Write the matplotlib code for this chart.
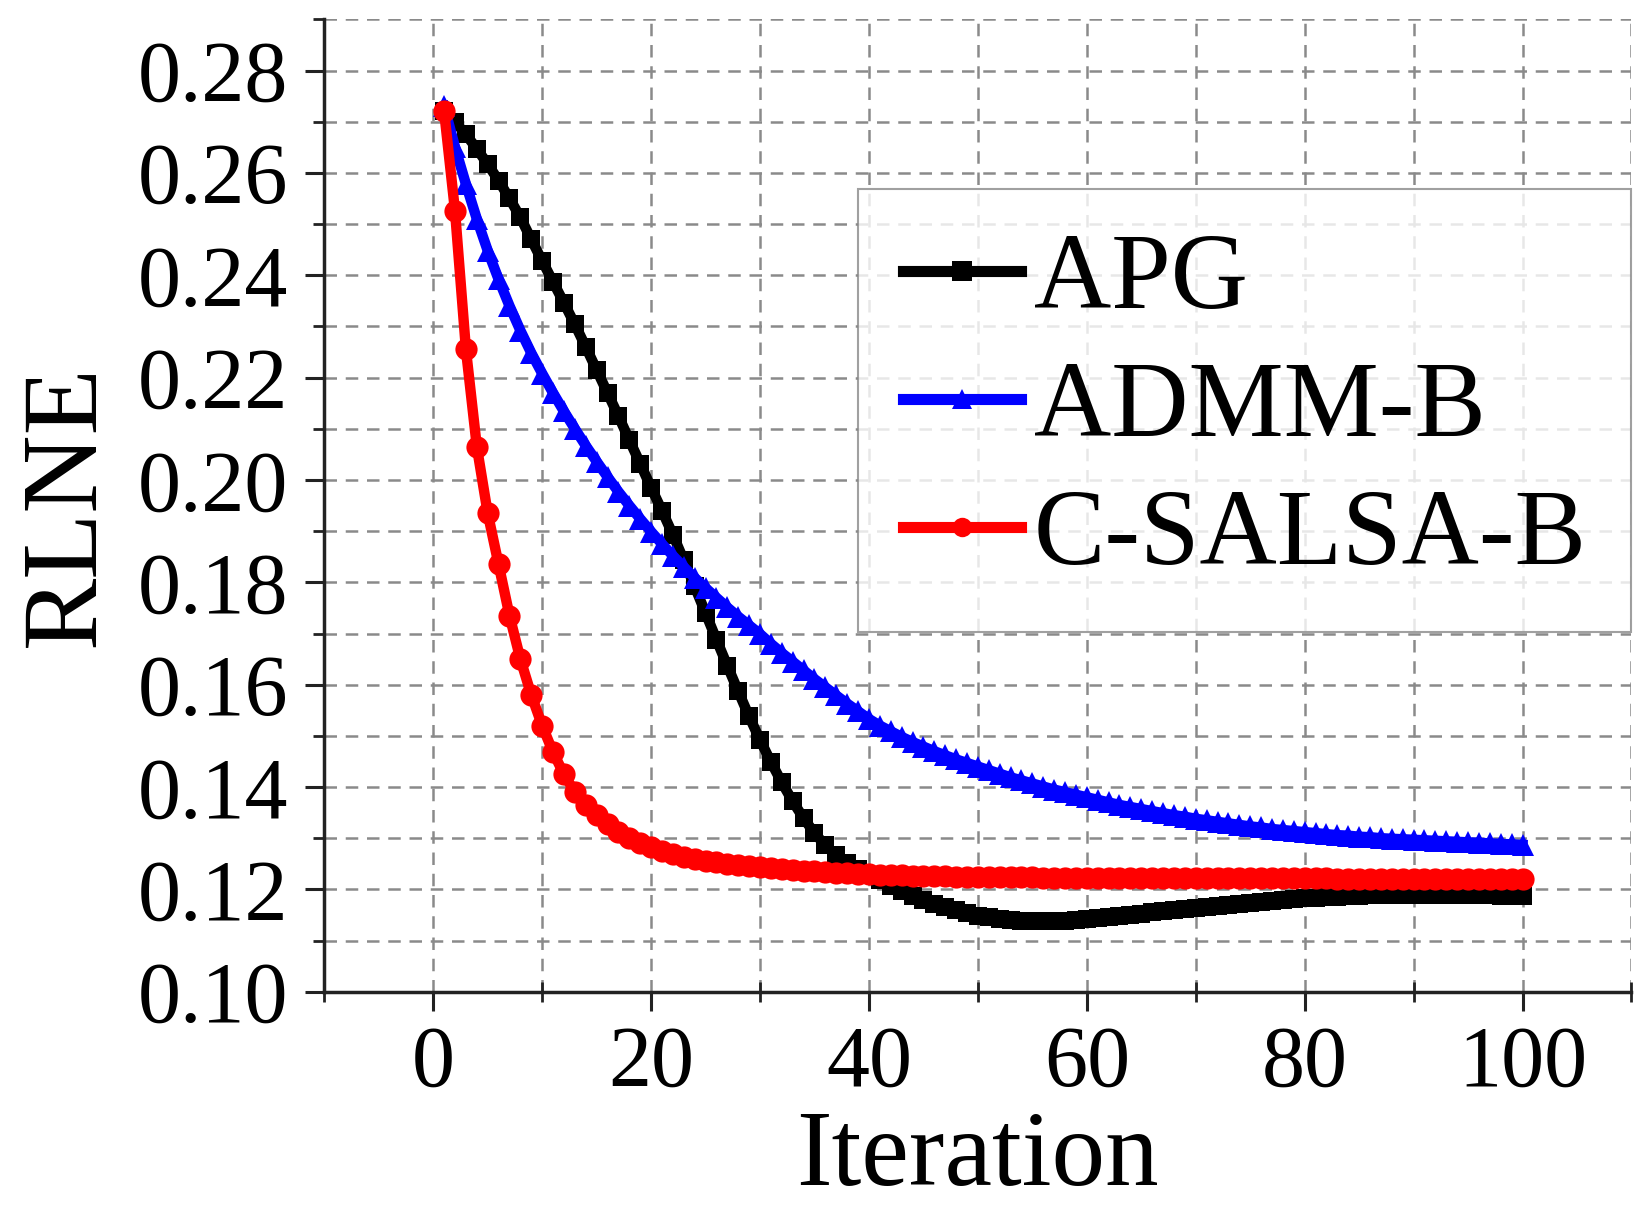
import numpy as np
import matplotlib
matplotlib.use("Agg")
import matplotlib.pyplot as plt
from matplotlib.ticker import MultipleLocator, FormatStrFormatter

# Data (iterations 1..100)
iterations = list(range(1, 101))

apg = [
    0.2720, 0.2700, 0.2675, 0.2647, 0.2617, 0.2585, 0.2550, 0.2513, 0.2470, 0.2428,
    0.2387, 0.2346, 0.2304, 0.2260, 0.2215, 0.2170, 0.2125, 0.2078, 0.2032, 0.1985,
    0.1940, 0.1893, 0.1843, 0.1792, 0.1740, 0.1688, 0.1637, 0.1587, 0.1538, 0.1492,
    0.1449, 0.1409, 0.1372, 0.1339, 0.1310, 0.1286, 0.1267, 0.1252, 0.1240, 0.1229,
    0.1218, 0.1207, 0.1197, 0.1188, 0.1180, 0.1172, 0.1165, 0.1159, 0.1153, 0.1149,
    0.1146, 0.1143, 0.1141, 0.1139, 0.1138, 0.1138, 0.1138, 0.1139, 0.1140, 0.1142,
    0.1144, 0.1146, 0.1148, 0.1150, 0.1152, 0.1155, 0.1157, 0.1159, 0.1162, 0.1164,
    0.1166, 0.1168, 0.1170, 0.1172, 0.1174, 0.1176, 0.1178, 0.1180, 0.1181, 0.1183,
    0.1184, 0.1185, 0.1186, 0.1187, 0.1188, 0.1189, 0.1189, 0.1190, 0.1190, 0.1190,
    0.1190, 0.1190, 0.1190, 0.1190, 0.1189, 0.1189, 0.1189, 0.1188, 0.1188, 0.1188,
]

admm_b = [
    0.2730, 0.2650, 0.2578, 0.2510, 0.2448, 0.2392, 0.2340, 0.2292, 0.2248, 0.2208,
    0.2170, 0.2134, 0.2100, 0.2067, 0.2036, 0.2006, 0.1977, 0.1950, 0.1924, 0.1899,
    0.1875, 0.1852, 0.1830, 0.1809, 0.1789, 0.1770, 0.1751, 0.1733, 0.1716, 0.1699,
    0.1680, 0.1662, 0.1645, 0.1628, 0.1611, 0.1595, 0.1579, 0.1563, 0.1548, 0.1533,
    0.1520, 0.1509, 0.1498, 0.1488, 0.1479, 0.1470, 0.1462, 0.1454, 0.1447, 0.1440,
    0.1433, 0.1426, 0.1419, 0.1413, 0.1407, 0.1401, 0.1395, 0.1390, 0.1385, 0.1380,
    0.1375, 0.1370, 0.1365, 0.1361, 0.1357, 0.1353, 0.1349, 0.1345, 0.1342, 0.1338,
    0.1335, 0.1332, 0.1329, 0.1326, 0.1323, 0.1321, 0.1318, 0.1316, 0.1314, 0.1312,
    0.1310, 0.1308, 0.1306, 0.1305, 0.1303, 0.1302, 0.1300, 0.1299, 0.1298, 0.1297,
    0.1296, 0.1295, 0.1294, 0.1293, 0.1292, 0.1291, 0.1290, 0.1289, 0.1288, 0.1287,
]

c_salsa_b = [
    0.2720, 0.2525, 0.2255, 0.2065, 0.1935, 0.1835, 0.1735, 0.1650, 0.1580, 0.1520,
    0.1468, 0.1425, 0.1390, 0.1365, 0.1345, 0.1328, 0.1313, 0.1300, 0.1290, 0.1282,
    0.1275, 0.1269, 0.1264, 0.1260, 0.1256, 0.1253, 0.1250, 0.1247, 0.1245, 0.1243,
    0.1241, 0.1239, 0.1238, 0.1236, 0.1235, 0.1234, 0.1233, 0.1232, 0.1231, 0.1230,
    0.1229, 0.1228, 0.1228, 0.1227, 0.1227, 0.1226, 0.1226, 0.1225, 0.1225, 0.1225,
    0.1224, 0.1224, 0.1224, 0.1224, 0.1224, 0.1223, 0.1223, 0.1223, 0.1223, 0.1223,
    0.1223, 0.1223, 0.1223, 0.1223, 0.1223, 0.1222, 0.1222, 0.1222, 0.1222, 0.1222,
    0.1222, 0.1222, 0.1222, 0.1222, 0.1222, 0.1222, 0.1222, 0.1222, 0.1222, 0.1222,
    0.1222, 0.1222, 0.1221, 0.1221, 0.1221, 0.1221, 0.1221, 0.1221, 0.1221, 0.1221,
    0.1221, 0.1221, 0.1221, 0.1221, 0.1221, 0.1221, 0.1221, 0.1221, 0.1221, 0.1221,
]

labels = ['APG', 'ADMM-B', 'C-SALSA-B']

plt.rcParams['font.family'] = ['Liberation Serif', 'DejaVu Serif']

fig = plt.figure(figsize=(16.38, 12.08), dpi=100)
ax = fig.add_axes([0.198, 0.179, 0.798, 0.805])

# Curves (black under blue under red)
ax.plot(iterations, apg, color='black', lw=7.5, marker='s', ms=13,
        markeredgewidth=0, label=labels[0], zorder=3)
ax.plot(iterations, admm_b, color='#0000ff', lw=7.5, marker='^', ms=16,
        markeredgewidth=0, label=labels[1], zorder=4)
ax.plot(iterations, c_salsa_b, color='#ff0000', lw=7.5, marker='o', ms=16,
        markeredgewidth=0, label=labels[2], zorder=5)

ax.set_xlim(-10, 110)
ax.set_ylim(0.10, 0.29)

ax.xaxis.set_major_locator(MultipleLocator(20))
ax.xaxis.set_minor_locator(MultipleLocator(10))
ax.yaxis.set_major_locator(MultipleLocator(0.02))
ax.yaxis.set_minor_locator(MultipleLocator(0.01))
ax.yaxis.set_major_formatter(FormatStrFormatter('%.2f'))

# Dashed grid on every 10 iterations and every 0.01
ax.grid(True, which='both', color='#8a8a8a', linestyle=(0, (5, 3.5)), linewidth=1.8, zorder=1)
ax.set_axisbelow(True)

for side in ['top', 'right']:
    ax.spines[side].set_visible(False)
for side in ['left', 'bottom']:
    ax.spines[side].set_linewidth(2.5)
    ax.spines[side].set_color('#222222')

ax.tick_params(axis='both', which='major', direction='out', length=14, width=2.2,
               labelsize=62, color='#222222')
ax.tick_params(axis='x', which='major', pad=10)
ax.tick_params(axis='y', which='major', pad=12)
ax.tick_params(axis='x', which='minor', direction='inout', length=14, width=2.0, color='#222222')
ax.tick_params(axis='y', which='minor', direction='out', length=8, width=2.0, color='#222222')

ax.set_xlabel('Iteration', fontsize=77)
ax.set_ylabel('RLNE', fontsize=78)
ax.xaxis.label.set_va('center')
ax.yaxis.label.set_va('center')
ax.xaxis.set_label_coords(0.5, -0.172)
ax.yaxis.set_label_coords(-0.196, 0.5)

leg = ax.legend(loc='upper right', bbox_to_anchor=(1.0, 0.826), borderaxespad=0,
                fontsize=77, handlelength=1.1, handletextpad=0.12, labelspacing=0.28,
                borderpad=0.42, fancybox=False, frameon=True)
leg.get_frame().set_edgecolor('#888888')
leg.get_frame().set_linewidth(1.5)
for h in leg.legend_handles:
    h.set_markersize(14)
    h.set_linewidth(8)

fig.savefig('out.png', dpi=100)
